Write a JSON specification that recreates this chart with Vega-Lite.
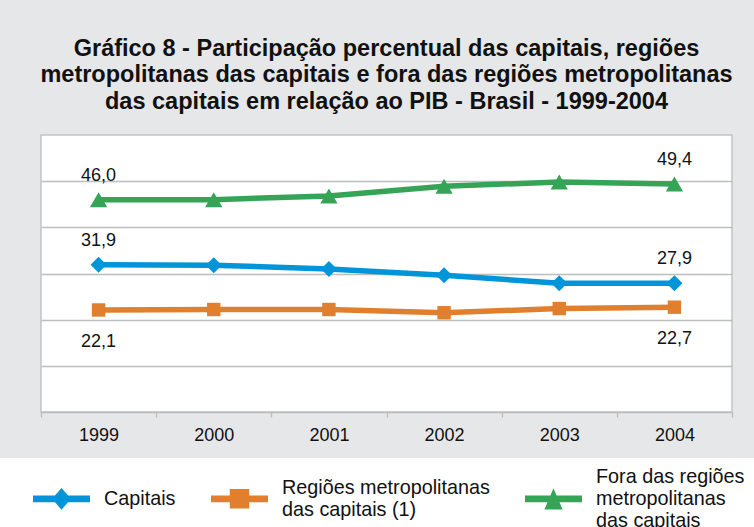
{
  "$schema": "https://vega.github.io/schema/vega-lite/v6.json",
  "autosize": {"type": "none"},
  "width": 691,
  "height": 277,
  "padding": {"left": 41, "top": 135, "right": 22, "bottom": 115},
  "background": "#e6e7e8",
  "title": {
    "text": ["Gráfico 8 - Participação percentual das capitais, regiões", "metropolitanas das capitais e fora das regiões metropolitanas", "das capitais em relação ao PIB - Brasil - 1999-2004"],
    "font": "Liberation Sans",
    "fontSize": 23.5,
    "fontWeight": "bold",
    "color": "#111111",
    "lineHeight": 26.6,
    "anchor": "middle",
    "frame": "group",
    "offset": 21.5
  },
  "data": {
    "values": [
      {"ano": "1999", "serie": "Capitais", "valor": 31.9},
      {"ano": "2000", "serie": "Capitais", "valor": 31.8},
      {"ano": "2001", "serie": "Capitais", "valor": 31.0},
      {"ano": "2002", "serie": "Capitais", "valor": 29.6},
      {"ano": "2003", "serie": "Capitais", "valor": 27.9},
      {"ano": "2004", "serie": "Capitais", "valor": 27.9},
      {"ano": "1999", "serie": "Regiões metropolitanas das capitais (1)", "valor": 22.1},
      {"ano": "2000", "serie": "Regiões metropolitanas das capitais (1)", "valor": 22.2},
      {"ano": "2001", "serie": "Regiões metropolitanas das capitais (1)", "valor": 22.2},
      {"ano": "2002", "serie": "Regiões metropolitanas das capitais (1)", "valor": 21.5},
      {"ano": "2003", "serie": "Regiões metropolitanas das capitais (1)", "valor": 22.4},
      {"ano": "2004", "serie": "Regiões metropolitanas das capitais (1)", "valor": 22.7},
      {"ano": "1999", "serie": "Fora das regiões metropolitanas das capitais", "valor": 46.0},
      {"ano": "2000", "serie": "Fora das regiões metropolitanas das capitais", "valor": 46.0},
      {"ano": "2001", "serie": "Fora das regiões metropolitanas das capitais", "valor": 46.8},
      {"ano": "2002", "serie": "Fora das regiões metropolitanas das capitais", "valor": 48.9},
      {"ano": "2003", "serie": "Fora das regiões metropolitanas das capitais", "valor": 49.8},
      {"ano": "2004", "serie": "Fora das regiões metropolitanas das capitais", "valor": 49.4}
    ]
  },
  "encoding": {
    "x": {
      "field": "ano",
      "type": "ordinal",
      "bandPosition": 0.5,
      "scale": {"type": "band", "paddingInner": 0, "paddingOuter": 0},
      "axis": {
        "title": null,
        "labelAngle": 0,
        "labelFont": "Liberation Sans",
        "labelFontSize": 18,
        "labelColor": "#111111",
        "labelPadding": 9,
        "tickBand": "extent",
        "tickSize": 5,
        "tickColor": "#bdbdbd",
        "tickWidth": 1.3,
        "domainColor": "#bdbdbd",
        "domainWidth": 1.5,
        "grid": false
      }
    },
    "y": {
      "field": "valor",
      "type": "quantitative",
      "scale": {"domain": [0, 60]},
      "axis": {
        "title": null,
        "labels": false,
        "ticks": false,
        "domain": false,
        "grid": true,
        "values": [10, 20, 30, 40, 50],
        "gridColor": "#bdbdbd",
        "gridWidth": 1.3
      }
    }
  },
  "layer": [
    {
      "transform": [{"filter": "datum.serie == 'Capitais'"}],
      "mark": {"type": "line", "strokeWidth": 5.5, "color": "#0095d9", "point": {"shape": "diamond", "filled": true, "size": 256, "opacity": 1, "color": "#0095d9"}}
    },
    {
      "transform": [{"filter": "datum.serie == 'Regiões metropolitanas das capitais (1)'"}],
      "mark": {"type": "line", "strokeWidth": 5.5, "color": "#e0802f", "point": {"shape": "square", "filled": true, "size": 180, "opacity": 1, "color": "#e0802f"}}
    },
    {
      "transform": [{"filter": "datum.serie == 'Fora das regiões metropolitanas das capitais'"}],
      "mark": {"type": "line", "strokeWidth": 5.5, "color": "#35a457", "point": {"shape": "triangle-up", "filled": true, "size": 300, "opacity": 1, "color": "#35a457"}}
    },
    {
      "transform": [{"filter": "(datum.ano == '1999' || datum.ano == '2004') && datum.serie != 'Regiões metropolitanas das capitais (1)'"}],
      "mark": {"type": "text", "dy": -24, "font": "Liberation Sans", "fontSize": 18, "color": "#111111", "baseline": "middle"},
      "encoding": {"text": {"field": "valor", "type": "quantitative", "format": ".1f"}}
    },
    {
      "transform": [{"filter": "(datum.ano == '1999' || datum.ano == '2004') && datum.serie == 'Regiões metropolitanas das capitais (1)'"}],
      "mark": {"type": "text", "dy": 32, "font": "Liberation Sans", "fontSize": 18, "color": "#111111", "baseline": "middle"},
      "encoding": {"text": {"field": "valor", "type": "quantitative", "format": ".1f"}}
    },
    {
      "mark": {"type": "point", "filled": true, "opacity": 0},
      "encoding": {
        "color": {
          "field": "serie",
          "type": "nominal",
          "scale": {
            "domain": ["Capitais", "Regiões metropolitanas das capitais (1)", "Fora das regiões metropolitanas das capitais"],
            "range": ["#0095d9", "#e0802f", "#35a457"]
          },
          "legend": {
            "title": null,
            "orient": "none",
            "legendX": -41,
            "legendY": 323,
            "labelExpr": "datum.label == 'Regiões metropolitanas das capitais (1)' ? ['\u200b', 'Regiões metropolitanas', '\u200b', 'das capitais (1)', '\u200b'] : datum.label == 'Fora das regiões metropolitanas das capitais' ? ['Fora das regiões', '\u200b', 'metropolitanas', '\u200b', 'das capitais'] : ['\u200b', '\u200b', datum.label, '\u200b', '\u200b']",
            "encode": {"labels": {"update": {"lineHeight": {"value": 11}, "dy": {"value": -22}}}}
          }
        },
        "shape": {
          "field": "serie",
          "type": "nominal",
          "scale": {
            "domain": ["Capitais", "Regiões metropolitanas das capitais (1)", "Fora das regiões metropolitanas das capitais"],
            "range": [
              "M-1,-0.118H1V0.118H-1Z M0,-0.38L0.333,0L0,0.38L-0.333,0Z",
              "M-1,-0.118H1V0.118H-1Z M-0.342,-0.342H0.342V0.342H-0.342Z",
              "M-1,-0.118H1V0.118H-1Z M0,-0.37L0.32,0.37L-0.32,0.37Z"
            ]
          },
          "legend": {
            "title": null,
            "orient": "none",
            "legendX": -41,
            "legendY": 323,
            "labelExpr": "datum.label == 'Regiões metropolitanas das capitais (1)' ? ['\u200b', 'Regiões metropolitanas', '\u200b', 'das capitais (1)', '\u200b'] : datum.label == 'Fora das regiões metropolitanas das capitais' ? ['Fora das regiões', '\u200b', 'metropolitanas', '\u200b', 'das capitais'] : ['\u200b', '\u200b', datum.label, '\u200b', '\u200b']",
            "encode": {"labels": {"update": {"lineHeight": {"value": 11}, "dy": {"value": -22}}}}
          }
        }
      }
    }
  ],
  "config": {
    "view": {"fill": "white", "stroke": "#c4c4c4", "strokeWidth": 1.5},
    "locale": {"number": {"decimal": ",", "thousands": ".", "grouping": [3], "currency": ["R$", ""]}},
    "legend": {
      "direction": "horizontal",
      "columns": 3,
      "fillColor": "white",
      "strokeColor": null,
      "padding": 12,
      "symbolSize": 3249,
      "symbolStrokeWidth": 0,
      "symbolOpacity": 1,
      "symbolOffset": 21,
      "columnPadding": 14,
      "labelFont": "Liberation Sans",
      "labelFontSize": 19.8,
      "labelColor": "#111111",
      "labelOffset": 14,
      "labelLimit": 0,
      "labelBaseline": "middle"
    }
  }
}
